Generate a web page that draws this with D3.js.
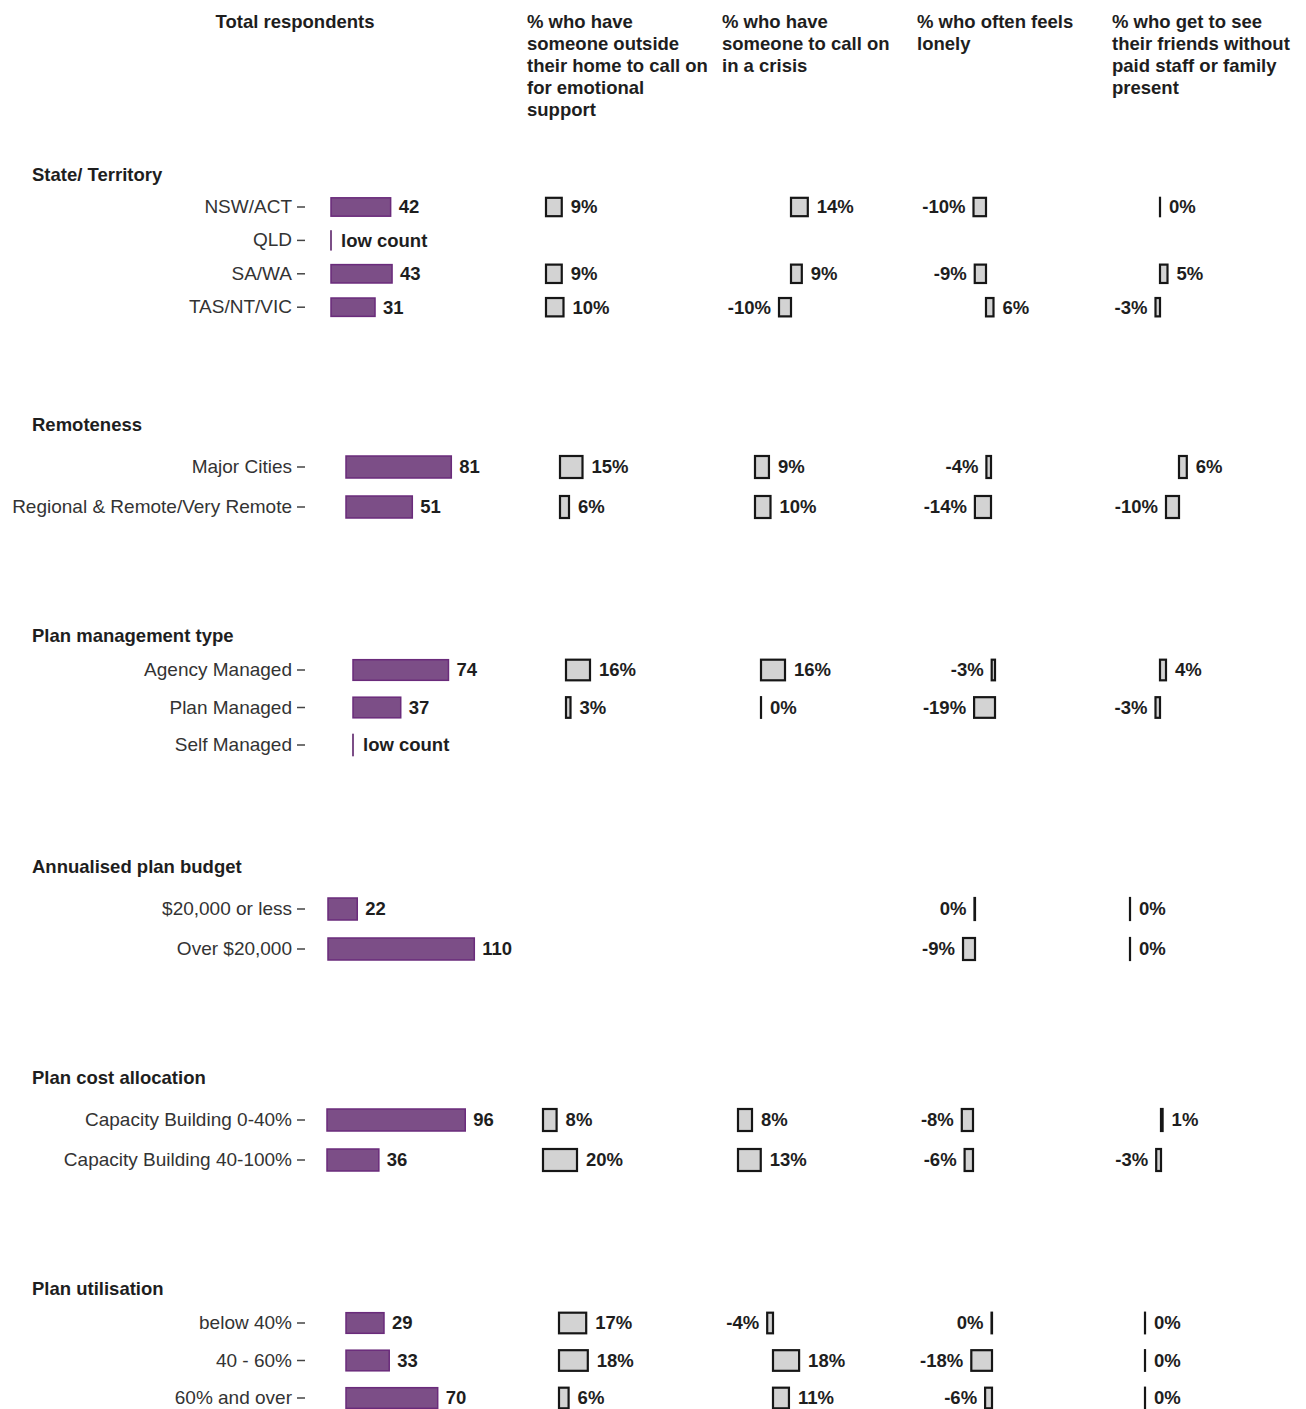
<!DOCTYPE html>
<html>
<head>
<meta charset="utf-8">
<script src="https://cdn.jsdelivr.net/npm/d3@7"></script>
<style>
  body { margin: 0; background: #fff; }
  text { font-family: "Liberation Sans", Arial, sans-serif; }
</style>
</head>
<body>
<svg></svg>
<script>
// Data
var groups = ["State/ Territory", "Remoteness", "Plan management type",
              "Annualised plan budget", "Plan cost allocation", "Plan utilisation"];

var rowLabels = [
    ["NSW/ACT", "QLD", "SA/WA", "TAS/NT/VIC"],
    ["Major Cities", "Regional & Remote/Very Remote"],
    ["Agency Managed", "Plan Managed", "Self Managed"],
    ["$20,000 or less", "Over $20,000"],
    ["Capacity Building 0-40%", "Capacity Building 40-100%"],
    ["below 40%", "40 - 60%", "60% and over"]
];

// null = low count
var respondents = [[42, null, 43, 31], [81, 51], [74, 37, null], [22, 110], [96, 36], [29, 33, 70]];

var emotionalSupport = [[9, null, 9, 10], [15, 6], [16, 3, null], [null, null], [8, 20], [17, 18, 6]];
var crisisContact    = [[14, null, 9, -10], [9, 10], [16, 0, null], [null, null], [8, 13], [-4, 18, 11]];
var oftenLonely      = [[-10, null, -9, 6], [-4, -14], [-3, -19, null], [-0.4, -9], [-8, -6], [-0.4, -18, -6]];
var seeFriends       = [[0, null, 5, -3], [6, -10], [4, -3, null], [0, 0], [1, -3], [0, 0, 0]];

var countTitle = "Total respondents";
var columnTitles = [
    ["% who have", "someone outside", "their home to call on", "for emotional", "support"],
    ["% who have", "someone to call on", "in a crisis"],
    ["% who often feels", "lonely"],
    ["% who get to see", "their friends without", "paid staff or family", "present"]
];

// Layout of each group block (positions, not data)
var layout = [
    { titleY: 175,  firstY: 207,  step: 33.4, countX0: 331, countK: 1.42, zeros: [546, 791, 986, 1160], ks: [1.75, 1.2, 1.25, 1.5] },
    { titleY: 425,  firstY: 467,  step: 40,   countX0: 346, countK: 1.30, zeros: [560, 755, 991, 1179], ks: [1.5, 1.55, 1.15, 1.3] },
    { titleY: 636,  firstY: 670,  step: 37.5, countX0: 353, countK: 1.29, zeros: [566, 761, 995, 1160], ks: [1.5, 1.5, 1.1, 1.5] },
    { titleY: 867,  firstY: 909,  step: 40,   countX0: 328, countK: 1.33, zeros: [null, null, 975, 1130], ks: [1.5, 1.5, 1.33, 1.5] },
    { titleY: 1078, firstY: 1120, step: 40,   countX0: 327, countK: 1.44, zeros: [543, 738, 973, 1161], ks: [1.7, 1.75, 1.4, 1.6] },
    { titleY: 1289, firstY: 1323, step: 37.5, countX0: 346, countK: 1.31, zeros: [559, 773, 992, 1145], ks: [1.6, 1.45, 1.15, 1.5] }
];

var w = 1306, h = 1409;
var colX = [527, 722, 917, 1112];
var purple = "#7c4e87", purpleDark = "#6a2b7b";
var greyFill = "#d3d3d3", ink = "#1e1e1e";

var svg = d3.select("svg").attr("width", w).attr("height", h);

// Column headers
svg.append("text")
    .attr("x", 295).attr("y", 28)
    .attr("text-anchor", "middle")
    .attr("font-size", 18.5).attr("font-weight", "bold").attr("fill", ink)
    .text(countTitle);

columnTitles.forEach(function (lines, c) {
    var t = svg.append("text")
        .attr("x", colX[c]).attr("y", 28)
        .attr("font-size", 18.5).attr("font-weight", "bold").attr("fill", ink);
    t.selectAll("tspan").data(lines).enter().append("tspan")
        .attr("x", colX[c])
        .attr("dy", function (d, i) { return i === 0 ? 0 : 22; })
        .text(function (d) { return d; });
});

var metricSeries = [emotionalSupport, crisisContact, oftenLonely, seeFriends];

function pctText(v) { return Math.round(v) + "%"; }

groups.forEach(function (name, g) {
    var L = layout[g];
    var labels = rowLabels[g];
    var top = L.firstY - L.step / 2;
    var y = d3.scaleBand()
        .domain(labels)
        .range([top, top + labels.length * L.step])
        .paddingInner(0.45).paddingOuter(0.225);
    var bh = y.bandwidth();

    // group title
    svg.append("text")
        .attr("x", 32).attr("y", L.titleY).attr("dy", "0.35em")
        .attr("font-size", 18.5).attr("font-weight", "bold").attr("fill", ink)
        .text(name);

    // row labels as a left axis
    var ax = svg.append("g")
        .attr("transform", "translate(305,0)")
        .call(d3.axisLeft(y).tickSize(8).tickPadding(5));
    ax.select(".domain").remove();
    ax.attr("font-size", 19).attr("font-family", "'Liberation Sans', Arial, sans-serif").attr("color", "#333");
    ax.selectAll(".tick line").attr("stroke", "#444").attr("stroke-width", 1.5);

    // total respondents bars
    var xc = d3.scaleLinear().domain([0, 100]).range([L.countX0, L.countX0 + 100 * L.countK]);
    var counts = respondents[g].map(function (v, i) { return { label: labels[i], value: v }; });
    var cg = svg.append("g");
    cg.selectAll("rect").data(counts).enter().append("rect")
        .attr("x", xc(0))
        .attr("y", function (d) { return y(d.label); })
        .attr("width", function (d) { return d.value == null ? 0.01 : xc(d.value) - xc(0); })
        .attr("height", bh)
        .attr("fill", purple)
        .attr("stroke", function (d) { return d.value == null ? purple : purpleDark; })
        .attr("stroke-width", function (d) { return d.value == null ? 2 : 1.5; });
    cg.selectAll("text").data(counts).enter().append("text")
        .attr("x", function (d) { return d.value == null ? xc(0) + 10 : xc(d.value) + 8; })
        .attr("y", function (d) { return y(d.label) + bh / 2; })
        .attr("dy", "0.35em")
        .attr("font-size", 18.5).attr("font-weight", "bold").attr("fill", ink)
        .text(function (d) { return d.value == null ? "low count" : d.value; });

    // percentage columns
    metricSeries.forEach(function (series, c) {
        if (L.zeros[c] == null) return;
        var x = d3.scaleLinear().domain([0, 10]).range([L.zeros[c], L.zeros[c] + 10 * L.ks[c]]);
        var vals = series[g]
            .map(function (v, i) { return { label: labels[i], value: v }; })
            .filter(function (d) { return d.value != null; });
        var pg = svg.append("g");
        pg.selectAll("rect").data(vals).enter().append("rect")
            .attr("x", function (d) { return Math.min(x(0), x(d.value)); })
            .attr("y", function (d) { return y(d.label); })
            .attr("width", function (d) { return Math.max(Math.abs(x(d.value) - x(0)), 0.01); })
            .attr("height", bh)
            .attr("fill", greyFill)
            .attr("stroke", "#161616")
            .attr("stroke-width", 2.2);
        pg.selectAll("text").data(vals).enter().append("text")
            .attr("x", function (d) { return d.value < 0 ? x(d.value) - 8 : x(d.value) + 9; })
            .attr("y", function (d) { return y(d.label) + bh / 2; })
            .attr("dy", "0.35em")
            .attr("text-anchor", function (d) { return d.value < 0 ? "end" : "start"; })
            .attr("font-size", 18.5).attr("font-weight", "bold").attr("fill", ink)
            .text(function (d) { return pctText(d.value); });
    });
});
</script>
</body>
</html>
